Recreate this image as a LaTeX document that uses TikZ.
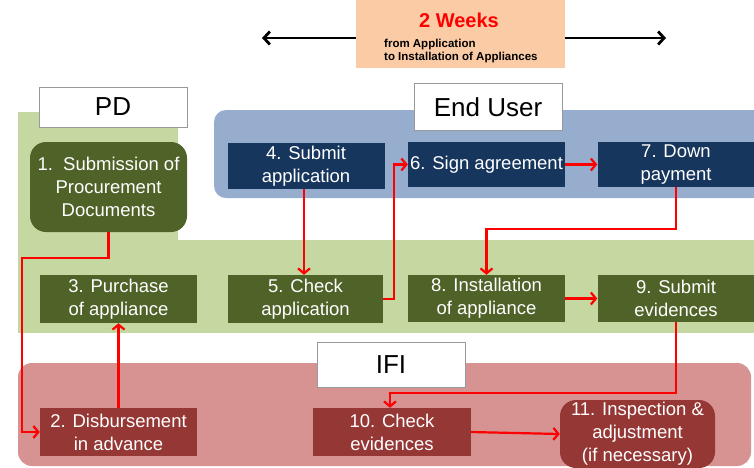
\documentclass[tikz,border=0pt]{standalone}
\usepackage{fontspec}
\setmainfont{Liberation Sans}
\usepackage{tikz}
\usetikzlibrary{arrows.meta}

\definecolor{bandgreen}{RGB}{197,216,162}
\definecolor{pdgreen}{RGB}{79,98,40}
\definecolor{userblue}{RGB}{150,173,206}
\definecolor{usernavy}{RGB}{23,54,93}
\definecolor{ifipink}{RGB}{215,146,146}
\definecolor{ifired}{RGB}{149,55,53}
\definecolor{weekorange}{RGB}{250,203,165}

\begin{document}
\begin{tikzpicture}[x=1pt, y=-1pt,
    stepbox/.style={minimum width=157pt, minimum height=47pt, inner sep=0pt, align=center,
      text=white, font=\fontsize{18.5}{23}\selectfont},
    pdstep/.style={stepbox, fill=pdgreen},
    userstep/.style={stepbox, fill=usernavy},
    ifistep/.style={stepbox, fill=ifired},
    headbox/.style={draw=gray!80, line width=0.8pt, fill=white, inner sep=0pt,
      font=\fontsize{26}{30}\selectfont},
    flow/.style={red, line width=2.2pt, -{Straight Barb[length=5pt,width=12pt]}},
    span/.style={black, line width=2.8pt, -{Straight Barb[length=6pt,width=13pt]}}]
      \clip (0,0) rectangle (754,467);
      % swim lanes
      \fill[bandgreen] (18,112) rectangle (178,245);
      \fill[bandgreen] (18,240) rectangle (754,333);
      \fill[userblue, rounded corners=12pt] (214,110) rectangle (780,198);
      \fill[ifipink, rounded corners=14pt] (18,363) rectangle (751,466);
      % duration banner
      \node[fill=weekorange, minimum width=209pt, minimum height=68pt] (weeks) at (460.5,34) {};
      \node[text=red, font=\bfseries\fontsize{20}{24}\selectfont] (weekstitle) at (459,20) {2 Weeks};
      \node[anchor=west, align=left, inner sep=0pt, font=\bfseries\fontsize{11.5}{13}\selectfont] (weeksnote) at (384,51.5) {from Application\\to Installation of Appliances};
      \coordinate (spanL) at (262,38);
      \coordinate (spanR) at (666,38);
      \draw[span] (weeks.west |- spanL) -- (spanL);
      \draw[span] (weeks.east |- spanR) -- (spanR);
      % lane labels
      \node[headbox, minimum width=148pt, minimum height=40pt] (pd) at (113,107) {PD};
      \node[headbox, minimum width=148pt, minimum height=47pt] (user) at (488,107) {End User};
      \node[headbox, minimum width=148pt, minimum height=45pt] (ifi) at (391,364.5) {IFI};
      % steps
      \node[pdstep, minimum height=90pt, rounded corners=16pt] (n1) at (108.5,187) {1.\ \ Submission of\\Procurement\\Documents};
      \node[ifistep, minimum height=48pt] (n2) at (118.5,432) {2. Disbursement\\in advance};
      \node[pdstep, minimum height=48pt] (n3) at (118.5,299) {3. Purchase\\of appliance};
      \node[userstep, minimum height=46pt] (n4) at (306,166) {4. Submit\\application};
      \node[pdstep, minimum width=155pt, minimum height=48pt] (n5) at (305.5,299) {5. Check\\application};
      \node[userstep, minimum height=45pt] (n6) at (486.5,164.5) {6. Sign agreement};
      \node[userstep, minimum height=45pt] (n7) at (676,164.5) {7. Down\\payment};
      \node[pdstep] (n8) at (486.5,298.5) {8. Installation\\of appliance};
      \node[pdstep] (n9) at (676,298.5) {9. Submit\\evidences};
      \node[ifistep, minimum width=158pt, minimum height=48pt] (n10) at (392,432) {10. Check\\evidences};
      \node[ifistep, minimum width=155pt, minimum height=68pt, rounded corners=16pt] (n11) at (637.5,434) {11. Inspection \&\\adjustment\\(if necessary)};
      % flow
      \draw[flow] (n1.south) |- (22,258) |- (n2.west);
      \draw[flow] (n2.north) -- (n3.south);
      \draw[flow] ([xshift=-2pt]n4.south) -- ([xshift=-2pt]n4.south |- n5.north);
      \draw[flow] (n5.east) -- ++(11,0) |- (n6.west);
      \draw[flow] (n6.east) -- (n7.west);
      \draw[flow] (n7.south) -- ++(0,42) -| (n8.north);
      \draw[flow] (n8.east) -- (n9.west);
      \draw[flow] (n9.south) -- ++(0,71) -| ([xshift=-2pt]n10.north);
      \draw[flow] (n10.east) -- (n11.west);
    \end{tikzpicture}
\end{document}
